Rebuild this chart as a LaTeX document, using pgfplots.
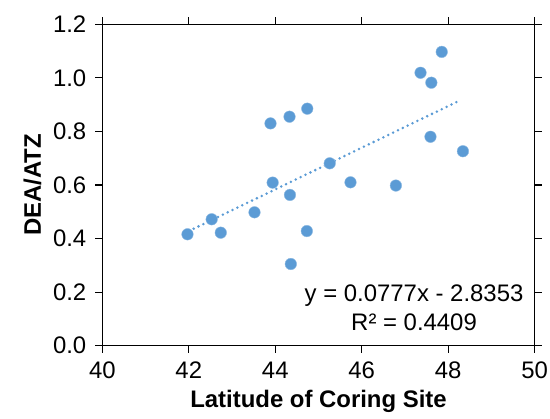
\documentclass[border=0pt]{standalone}
\usepackage{fontspec}
\setmainfont{Liberation Sans}
\usepackage{pgfplots}
\pgfplotsset{compat=1.18}
\definecolor{ptblue}{HTML}{5B9BD5}

\pgfplotstableread{
lat ratio
47.85 1.097
47.36 1.019
47.61 0.982
43.89 0.830
44.33 0.855
44.74 0.885
47.59 0.780
48.34 0.726
45.26 0.681
43.94 0.609
45.74 0.610
46.79 0.598
44.34 0.563
42.53 0.472
43.52 0.498
41.97 0.416
42.74 0.422
44.73 0.428
44.36 0.305
}\coring

\begin{document}
\begin{tikzpicture}
\begin{axis}[
    scale only axis,
    width=216.2bp,
    height=160.7bp,
    xmin=40, xmax=50,
    ymin=0, ymax=1.2,
    xtick={40,42,...,50},
    ytick={0,0.2,...,1.2},
    tick align=outside,
    major tick length=3.5bp,
    tick style={black, line width=0.6pt},
    axis line style={black, line width=0.6pt},
    /pgf/number format/assume math mode=true,
    ticklabel style={font=\fontsize{12}{14}\selectfont},
    xticklabel style={yshift=-1bp},
    yticklabel style={xshift=-1bp, /pgf/number format/.cd, fixed, fixed zerofill, precision=1},
    xlabel={\bfseries Latitude of Coring Site},
    ylabel={\bfseries DEA/ATZ},
    label style={font=\fontsize{12}{14}\selectfont},
    xlabel style={yshift=1bp},
    ylabel style={yshift=-1bp},
    clip=false,
]
\coordinate (bbl) at (rel axis cs:-0.2366,-0.225);
\coordinate (btr) at (rel axis cs:1.0354,1.0756);
\addplot[only marks, mark=*, mark size=2.9bp, mark options={fill=ptblue, draw=ptblue!70!white, line width=0.2pt}]
    table[x=lat, y=ratio] {\coring};
\addplot[ptblue, line width=1.4bp, line cap=round, dash pattern=on 0pt off 2.7bp]
    coordinates {(42.0,0.428) (48.3,0.918)};
\node[align=center, font=\fontsize{12}{14.5}\selectfont, inner sep=0pt] at (axis cs:47.21,0.143)
    {y = 0.0777x - 2.8353\\R² = 0.4409};
\end{axis}
\pgfresetboundingbox
\path[use as bounding box] (bbl) rectangle (btr);
\end{tikzpicture}
\end{document}
